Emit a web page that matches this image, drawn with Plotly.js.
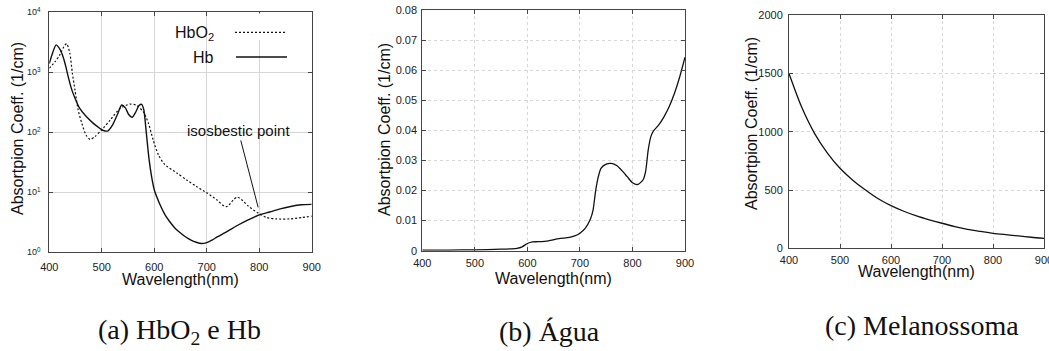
<!DOCTYPE html>
<html>
<head>
<meta charset="utf-8">
<script src="https://cdn.plot.ly/plotly-3.0.1.min.js"></script>
<style>html,body{margin:0;padding:0;background:#fff;}#chart{width:1049px;height:351px;}</style>
</head>
<body>
<div id="chart"></div>
<script>
// ---- Panel (a): HbO2 and Hb absorption (log scale) ----
const hbWavelength = [400,405,413,418,424,430,436,442,449,458,470,484,496,503,512,520,530,538,545,551,558,565,571,576,580,585,590,595,600,610,620,630,640,650,660,670,680,690,700,710,720,740,760,780,800,820,840,860,880,900];
const hbValues     = [1400,1950,2860,2600,2050,1400,850,540,370,250,185,141,117,107,106,130,200,285,255,200,178,220,280,293,240,95,36,18,11,6.5,4.3,3.2,2.5,2.1,1.8,1.6,1.47,1.4,1.45,1.6,1.8,2.25,2.85,3.5,4.2,4.7,5.3,5.8,6.2,6.3];
const hbo2Wavelength = [400,411,420,428,433,439,444,449,455,462,470,478,487,500,516,535,554,566,579,589,598,608,620,643,662,681,700,719,733,739,751,758,766,779,798,814,833,858,881,900];
const hbo2Values     = [1170,1500,1950,2690,3000,2100,960,500,235,141,90,76,85,110,160,250,295,282,220,141,74,42,29,21,16,12.4,9.8,7.5,5.9,5.8,7.5,8.3,7.6,5.9,4.5,3.8,3.6,3.6,3.8,4.0];
const logTickVals = [1,10,100,1000,10000];
const logTickText = ['10<sup>0</sup>','10<sup>1</sup>','10<sup>2</sup>','10<sup>3</sup>','10<sup>4</sup>'];

// ---- Panel (b): water ----
const waterWavelength = [400,450,500,550,580,590,600,610,620,640,660,680,690,700,710,720,725,730,735,740,750,760,770,780,790,800,810,820,825,830,835,840,850,860,870,880,890,900];
const waterValues     = [0.0002,0.0002,0.0003,0.0005,0.0008,0.0013,0.0024,0.0029,0.003,0.0033,0.004,0.0044,0.0049,0.0058,0.0074,0.0105,0.0135,0.020,0.0246,0.0274,0.0288,0.029,0.0283,0.0266,0.0246,0.0226,0.022,0.0235,0.0263,0.0335,0.0379,0.0398,0.0418,0.0445,0.0479,0.0523,0.0578,0.0643];

// ---- Panel (c): melanosome ----
const melWavelength = [400,425,450,475,500,525,550,575,600,625,650,675,700,725,750,775,800,825,850,875,900];
const melValues     = [1500,1210,987,820,687,585,500,425,366,318,278,245,215,187,163,145,129,117,106,95,86];

const xTicks = [400,500,600,700,800,900];
const xTitle = 'Wavelength(nm)';
const yTitle = 'Absortpion Coeff. (1/cm)';
const captions = ['(a) HbO<sub>2</sub> e Hb','(b) Água','(c) Melanossoma'];

const W = 1049, H = 351;
const px = v => v / W;
const py = v => 1 - v / H;

const FONT = "'Liberation Sans', Arial, sans-serif";
const SERIF = "'Liberation Serif', 'Times New Roman', serif";
function axisBase(extra) {
  return Object.assign({
    showline: true, linecolor: '#444', linewidth: 1, mirror: 'ticks',
    ticks: 'inside', ticklen: 4, tickcolor: '#444', tickwidth: 1,
    showgrid: true, gridcolor: '#d6d6d6', gridwidth: 1,
    zeroline: false, automargin: false, ticklabeloverflow: 'allow',
    tickfont: {family: FONT, size: 11, color: '#222'}
  }, extra);
}
function label(x, y, text, size, extra) {
  return Object.assign({xref: 'paper', yref: 'paper', x: px(x), y: py(y), xanchor: 'center', yanchor: 'middle',
    showarrow: false, text: text, font: {family: FONT, size: size, color: '#111'}}, extra || {});
}

const traces = [
  {x: hbo2Wavelength, y: hbo2Values, xaxis: 'x', yaxis: 'y', mode: 'lines', name: 'HbO2',
   line: {color: '#111', width: 1.2, dash: '2px,2px', shape: 'spline', smoothing: 0.7}},
  {x: hbWavelength, y: hbValues, xaxis: 'x', yaxis: 'y', mode: 'lines', name: 'Hb',
   line: {color: '#111', width: 1.4, shape: 'spline', smoothing: 0.7}},
  {x: waterWavelength, y: waterValues, xaxis: 'x2', yaxis: 'y2', mode: 'lines', name: 'Água',
   line: {color: '#111', width: 1.3, shape: 'spline', smoothing: 0.6}},
  {x: melWavelength, y: melValues, xaxis: 'x3', yaxis: 'y3', mode: 'lines', name: 'Melanossoma',
   line: {color: '#111', width: 1.3, shape: 'spline', smoothing: 0.8}}
];

const layout = {
  width: W, height: H,
  margin: {l: 0, r: 0, t: 0, b: 0, pad: 0},
  paper_bgcolor: '#fff', plot_bgcolor: '#fff',
  showlegend: false,
  font: {family: FONT, color: '#222'},
  xaxis: axisBase({domain: [px(49.3), px(311.7)], range: [400, 900], tickvals: xTicks, anchor: 'y', ticklabelstandoff: 4}),
  yaxis: axisBase({domain: [py(252.3), py(12.3)], type: 'log', range: [0, 4], tickvals: logTickVals, ticktext: logTickText,
                   anchor: 'x', tickfont: {family: FONT, size: 9, color: '#222'}, ticklabelstandoff: 6}),
  xaxis2: axisBase({domain: [px(422.3), px(685)], range: [400, 900], tickvals: xTicks, anchor: 'y2', griddash: 'dot', ticklabelstandoff: 2}),
  yaxis2: axisBase({domain: [py(250.7), py(10)], range: [0, 0.08], dtick: 0.01, anchor: 'x2', griddash: 'dot', ticklabelstandoff: 2}),
  xaxis3: axisBase({domain: [px(789), px(1044)], range: [400, 900], tickvals: xTicks, anchor: 'y3', griddash: 'dot', ticklabelstandoff: 1}),
  yaxis3: axisBase({domain: [py(248.3), py(15.3)], range: [0, 2000], dtick: 500, anchor: 'x3', griddash: 'dot', ticklabelstandoff: 3}),
  shapes: [
    {type: 'rect', xref: 'paper', yref: 'paper', x0: px(226), x1: px(296), y0: py(40), y1: py(13.5),
     fillcolor: '#fff', line: {width: 0}, layer: 'above'},
    {type: 'line', xref: 'paper', yref: 'paper', x0: px(235), x1: px(285), y0: py(32.3), y1: py(32.3),
     line: {color: '#111', width: 1.2, dash: '2px,2px'}, layer: 'above'},
    {type: 'line', xref: 'paper', yref: 'paper', x0: px(236), x1: px(287), y0: py(57), y1: py(57),
     line: {color: '#111', width: 1.4}, layer: 'above'}
  ],
  annotations: [
    // legend labels
    label(216, 33, 'HbO<sub>2</sub>', 16, {xanchor: 'right'}),
    label(216, 57.5, 'Hb', 16, {xanchor: 'right'}),
    // isosbestic point
    {xref: 'x', yref: 'y', x: 798, y: Math.log10(5.6), ax: -20, ay: -77, showarrow: true, arrowhead: 0,
     arrowwidth: 1, arrowcolor: '#111', text: 'isosbestic point', font: {family: FONT, size: 15, color: '#111'}},
    // axis titles
    label(180.5, 279, xTitle, 16),
    label(553.6, 278, xTitle, 16),
    label(916.5, 271, xTitle, 16),
    label(17, 129, yTitle, 16, {textangle: -90}),
    label(384, 130, yTitle, 16, {textangle: -90}),
    label(752, 124, yTitle, 16, {textangle: -90}),
    // captions
    label(179, 331, captions[0], 28, {font: {family: SERIF, size: 28, color: '#111'}}),
    label(549, 331, captions[1], 28, {font: {family: SERIF, size: 28, color: '#111'}}),
    label(922, 325, captions[2], 28, {font: {family: SERIF, size: 28, color: '#111'}})
  ]
};

Plotly.newPlot('chart', traces, layout, {displayModeBar: false, staticPlot: true});
</script>
</body>
</html>
